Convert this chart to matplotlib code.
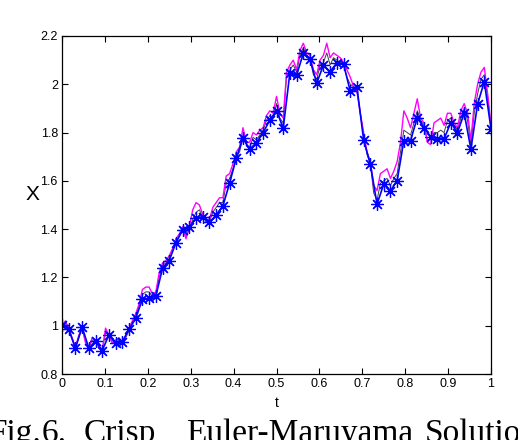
import matplotlib
matplotlib.use('Agg')
import matplotlib.pyplot as plt
import numpy as np

# Euler-Maruyama solution, coarse step (blue, asterisks)
em_x = [1.003, 0.985, 0.906, 0.996, 0.906, 0.938, 0.897, 0.962, 0.930, 0.934,
        0.985, 1.031, 1.109, 1.113, 1.123, 1.238, 1.270, 1.344, 1.397, 1.408,
        1.445, 1.452, 1.428, 1.459, 1.496, 1.590, 1.694, 1.776, 1.731, 1.758,
        1.799, 1.852, 1.891, 1.818, 2.048, 2.038, 2.128, 2.103, 2.004, 2.080,
        2.052, 2.089, 2.084, 1.971, 1.988, 1.769, 1.669, 1.503, 1.587, 1.559,
        1.601, 1.767, 1.767, 1.862, 1.820, 1.783, 1.774, 1.774, 1.841, 1.800,
        1.880, 1.731, 1.918, 2.011, 1.815]

# fine path (magenta)
fine_x = [1.00, 1.02, 0.99, 0.95, 0.91, 0.96, 0.99, 0.93, 0.91, 0.95,
          0.94, 0.91, 0.90, 0.99, 0.96, 0.93, 0.94, 0.95, 0.92, 0.96,
          0.99, 1.02, 1.05, 1.09, 1.15, 1.16, 1.16, 1.13, 1.14, 1.22,
          1.26, 1.27, 1.29, 1.32, 1.36, 1.38, 1.41, 1.36, 1.41, 1.48,
          1.51, 1.50, 1.46, 1.44, 1.44, 1.49, 1.51, 1.53, 1.53, 1.62,
          1.63, 1.67, 1.72, 1.74, 1.82, 1.76, 1.76, 1.80, 1.79, 1.81,
          1.82, 1.87, 1.89, 1.88, 1.95, 1.88, 1.86, 2.05, 2.08, 2.10,
          2.06, 2.14, 2.17, 2.13, 2.12, 2.06, 2.04, 2.10, 2.12, 2.17,
          2.11, 2.13, 2.12, 2.11, 2.09, 2.06, 2.03, 1.99, 1.97, 1.88,
          1.80, 1.72, 1.68, 1.58, 1.56, 1.63, 1.64, 1.65, 1.61, 1.64,
          1.68, 1.76, 1.89, 1.86, 1.82, 1.88, 1.94, 1.86, 1.84, 1.76,
          1.75, 1.84, 1.85, 1.86, 1.83, 1.88, 1.88, 1.84, 1.82, 1.89,
          1.92, 1.88, 1.77, 1.92, 2.00, 2.05, 2.07, 1.96, 1.83]

# reference path (black)
ref_x = [1.00, 1.01, 0.99, 0.95, 0.91, 0.95, 0.99, 0.94, 0.91, 0.94,
         0.94, 0.91, 0.90, 0.97, 0.96, 0.93, 0.93, 0.95, 0.93, 0.95,
         0.98, 1.01, 1.04, 1.08, 1.13, 1.14, 1.14, 1.12, 1.13, 1.20,
         1.25, 1.26, 1.28, 1.31, 1.35, 1.37, 1.40, 1.37, 1.40, 1.44,
         1.47, 1.48, 1.45, 1.43, 1.43, 1.47, 1.49, 1.51, 1.51, 1.59,
         1.61, 1.65, 1.70, 1.72, 1.79, 1.75, 1.74, 1.78, 1.77, 1.79,
         1.81, 1.85, 1.87, 1.86, 1.92, 1.86, 1.84, 2.03, 2.06, 2.08,
         2.05, 2.12, 2.15, 2.12, 2.11, 2.04, 2.02, 2.08, 2.09, 2.13,
         2.08, 2.11, 2.10, 2.09, 2.08, 2.03, 2.00, 1.99, 1.98, 1.88,
         1.79, 1.71, 1.67, 1.55, 1.52, 1.59, 1.60, 1.61, 1.58, 1.61,
         1.63, 1.72, 1.81, 1.80, 1.79, 1.84, 1.89, 1.85, 1.83, 1.77,
         1.77, 1.80, 1.80, 1.81, 1.80, 1.85, 1.86, 1.83, 1.81, 1.86,
         1.90, 1.85, 1.75, 1.88, 1.96, 2.02, 2.04, 1.95, 1.82]

xticks = [0, 0.1, 0.2, 0.3, 0.4, 0.5, 0.6, 0.7, 0.8, 0.9, 1]
xlabels = ['0', '0.1', '0.2', '0.3', '0.4', '0.5', '0.6', '0.7', '0.8', '0.9', '1']
yticks = [0.8, 1.0, 1.2, 1.4, 1.6, 1.8, 2.0, 2.2]
ylabels = ['0.8', '1', '1.2', '1.4', '1.6', '1.8', '2', '2.2']

t_em = np.linspace(0, 1, len(em_x))
t_fine = np.linspace(0, 1, len(fine_x))
t_ref = np.linspace(0, 1, len(ref_x))

plt.rcParams['font.family'] = ['Liberation Sans', 'DejaVu Sans']
fig = plt.figure(figsize=(5.18, 4.40), dpi=100)
ax = fig.add_axes([62/518, 1-374/440, (491-62)/518, (374-36)/440])

ax.plot(t_ref, ref_x, color='#404040', linewidth=0.7)
ax.plot(t_fine, fine_x, color='#ff00ff', linewidth=1.0)
ax.plot(t_em, em_x, color='#0000ff', linewidth=1.2, marker=(8, 2, 0),
        markersize=9, markeredgewidth=0.9)

ax.set_xlim(0, 1)
ax.set_ylim(0.8, 2.2)
ax.set_xticks(xticks)
ax.set_xticklabels(xlabels)
ax.set_yticks(yticks)
ax.set_yticklabels(ylabels)
ax.tick_params(direction='in', top=True, right=True, length=4, width=0.8,
               labelsize=9, pad=3)
for s in ax.spines.values():
    s.set_linewidth(0.9)
ax.set_xlabel('t', fontsize=10, labelpad=4)
ax.set_ylabel('X', fontsize=15, rotation=0, va='center', ha='center')
ax.yaxis.set_label_coords(-0.069, 0.531)

# caption cut by the crop
cap_font = dict(family=['Liberation Serif', 'DejaVu Serif'], fontsize=24, va='baseline')
fig.text(-12/518, -2/440, 'Fig.', **cap_font)
fig.text(42/518, -2/440, '6.', **cap_font)
fig.text(84/518, -2/440, 'Crisp', **cap_font)
fig.text(186/518, -2/440, 'Euler-Maruyama', **cap_font)
fig.text(425/518, -2/440, 'Solution', **cap_font)

fig.savefig('out.png', dpi=100)
